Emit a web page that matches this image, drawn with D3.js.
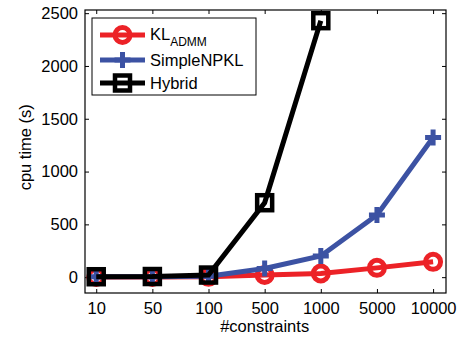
<!DOCTYPE html>
<html>
<head>
<meta charset="utf-8">
<script src="https://cdn.jsdelivr.net/npm/d3@7"></script>
<style>
  body { margin: 0; background: #fff; }
  text { font-family: "Liberation Sans", Arial, sans-serif; fill: #000; }
</style>
</head>
<body>
<svg id="chart" width="463" height="337"></svg>
<script>
// data
const categories = ['10', '50', '100', '500', '1000', '5000', '10000'];
const klAdmm = [2, 2, 3, 20, 35, 88, 145];
const simpleNpkl = [3, 3, 8, 82, 200, 588, 1322];
const hybrid = [4, 6, 20, 705, 2429];
const yTicks = [0, 500, 1000, 1500, 2000, 2500];

const margin = { top: 10, right: 17, bottom: 44, left: 85 };
const width = 463 - margin.left - margin.right;
const height = 337 - margin.top - margin.bottom;

const svg = d3.select('#chart');
const g = svg.append('g')
  .attr('transform', `translate(${margin.left},${margin.top})`);

const x = d3.scaleLinear()
  .domain([0.8, 7.23])
  .range([0, width]);

const y = d3.scaleLinear()
  .domain([-150, 2530])
  .range([height, 0]);

const idx = categories.map((c, i) => i + 1);

// axes, ticks pointing inward like matlab
const tickFont = '16.5px';
g.append('g')
  .attr('transform', `translate(0,${height})`)
  .call(d3.axisBottom(x).tickValues(idx).tickFormat(i => categories[i - 1]).tickSizeInner(-4).tickSizeOuter(0).tickPadding(9))
  .call(a => a.select('.domain').remove())
  .selectAll('text').style('font-size', tickFont);

g.append('g')
  .call(d3.axisTop(x).tickValues(idx).tickFormat('').tickSizeInner(-4).tickSizeOuter(0))
  .call(a => a.select('.domain').remove());

g.append('g')
  .call(d3.axisLeft(y).tickValues(yTicks).tickFormat(d3.format('d')).tickSizeInner(-4).tickSizeOuter(0).tickPadding(7))
  .call(a => a.select('.domain').remove())
  .selectAll('text').style('font-size', tickFont);

g.append('g')
  .attr('transform', `translate(${width},0)`)
  .call(d3.axisRight(y).tickValues(yTicks).tickFormat('').tickSizeInner(-4).tickSizeOuter(0))
  .call(a => a.select('.domain').remove());

g.selectAll('.tick line').attr('stroke', '#000');

g.append('rect')
  .attr('width', width)
  .attr('height', height)
  .attr('fill', 'none')
  .attr('stroke', '#000')
  .attr('stroke-width', 1.2);

const line = d3.line()
  .x((d, i) => x(i + 1))
  .y(d => y(d));

const red = '#ec2227';
const blue = '#3c52a3';

// KL_ADMM
g.append('path').datum(klAdmm)
  .attr('d', line).attr('fill', 'none').attr('stroke', red).attr('stroke-width', 5);
g.selectAll('.kl').data(klAdmm).enter().append('circle')
  .attr('cx', (d, i) => x(i + 1)).attr('cy', d => y(d)).attr('r', 7.5)
  .attr('fill', 'none').attr('stroke', red).attr('stroke-width', 5);

// SimpleNPKL
g.append('path').datum(simpleNpkl)
  .attr('d', line).attr('fill', 'none').attr('stroke', blue).attr('stroke-width', 5);
g.selectAll('.np').data(simpleNpkl).enter().append('path')
  .attr('transform', (d, i) => `translate(${x(i + 1)},${y(d)})`)
  .attr('d', 'M-8,0H8M0,-8V8')
  .attr('fill', 'none').attr('stroke', blue).attr('stroke-width', 5);

// Hybrid
g.append('path').datum(hybrid)
  .attr('d', line).attr('fill', 'none').attr('stroke', '#000').attr('stroke-width', 5);
g.selectAll('.hy').data(hybrid).enter().append('rect')
  .attr('x', (d, i) => x(i + 1) - 7.5).attr('y', d => y(d) - 7.5)
  .attr('width', 15).attr('height', 15)
  .attr('fill', 'none').attr('stroke', '#000').attr('stroke-width', 4.5);

// axis labels
svg.append('text')
  .attr('x', margin.left + x(4))
  .attr('y', 332)
  .attr('text-anchor', 'middle')
  .style('font-size', '16.5px')
  .text('#constraints');

svg.append('text')
  .attr('transform', `translate(31,${margin.top + y(1230)}) rotate(-90)`)
  .attr('text-anchor', 'middle')
  .style('font-size', '16.5px')
  .text('cpu time (s)');

// legend
const leg = svg.append('g').attr('transform', 'translate(92,18)');
leg.append('rect')
  .attr('width', 164).attr('height', 77)
  .attr('fill', '#fff').attr('stroke', '#000').attr('stroke-width', 1);

const legendRows = [
  { y: 17, color: red, kind: 'circle' },
  { y: 42, color: blue, kind: 'plus' },
  { y: 65, color: '#000', kind: 'square' }
];
legendRows.forEach(r => {
  leg.append('line')
    .attr('x1', 8).attr('x2', 53).attr('y1', r.y).attr('y2', r.y)
    .attr('stroke', r.color).attr('stroke-width', 5);
  if (r.kind === 'circle') {
    leg.append('circle').attr('cx', 30.5).attr('cy', r.y).attr('r', 7.5)
      .attr('fill', 'none').attr('stroke', r.color).attr('stroke-width', 5);
  } else if (r.kind === 'plus') {
    leg.append('path').attr('transform', `translate(30.5,${r.y})`)
      .attr('d', 'M-8,0H8M0,-8V8')
      .attr('fill', 'none').attr('stroke', r.color).attr('stroke-width', 5);
  } else {
    leg.append('rect').attr('x', 23).attr('y', r.y - 7.5).attr('width', 15).attr('height', 15)
      .attr('fill', 'none').attr('stroke', r.color).attr('stroke-width', 4.5);
  }
});

const t1 = leg.append('text').attr('x', 58).attr('y', 22).style('font-size', '16.5px');
t1.append('tspan').text('KL');
t1.append('tspan').attr('dy', 6).style('font-size', '12px').text('ADMM');
leg.append('text').attr('x', 58).attr('y', 48).style('font-size', '16.5px').text('SimpleNPKL');
leg.append('text').attr('x', 58).attr('y', 71).style('font-size', '16.5px').text('Hybrid');
</script>
</body>
</html>
